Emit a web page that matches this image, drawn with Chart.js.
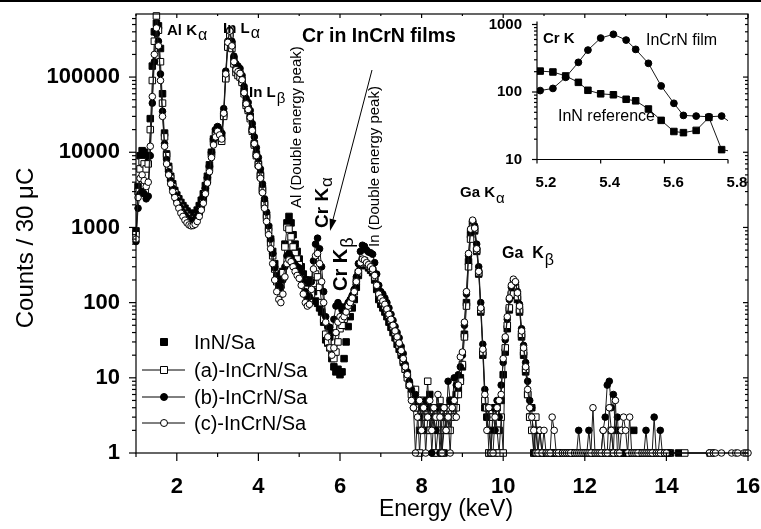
<!DOCTYPE html>
<html>
<head>
<meta charset="utf-8">
<title>Cr in InCrN films</title>
<script src="https://cdn.jsdelivr.net/npm/chart.js@4.4.1/dist/chart.umd.min.js"></script>
<style>
  html, body { margin: 0; padding: 0; background: #fff; }
  #figure { position: relative; width: 761px; height: 529px; overflow: hidden; }
  #figure canvas { position: absolute; }
  #mainChart { left: 0; top: 0; }
  #insetChart { left: 470px; top: 0; }
  #topRule { position: absolute; left: 0; top: 0; width: 761px; height: 2px; background: #000; }
</style>
</head>
<body>
<div id="figure">
  <canvas id="mainChart" width="761" height="529"></canvas>
  <canvas id="insetChart" width="285" height="190"></canvas>
  <div id="topRule"></div>
</div>
<script>
const FONT = "'Liberation Sans', Arial, Helvetica, sans-serif";
Chart.defaults.font.family = FONT;
Chart.defaults.color = '#000';

// spectrum channels are 0.05 keV wide, first channel at 1.00 keV
const CHANNEL_START = 1.0;
const CHANNEL_STEP = 0.05;

// counts per channel, one row = 1 keV; null = empty channel (not shown on log axis)
const innSa = [
  900, 3500, 9000, 10500, 10000, 8500, 9000, 28000, 140000, 400000, 520000, 480000, 240000, 60000, 18000, 9500, 6500, 4800, 3800, 3100,
  2700, 2400, 2150, 1950, 1800, 1650, 1550, 1500, 1500, 1550, 1700, 1950, 2300, 2800, 3600, 4800, 6800, 10000, 15000, 19000,
  21000, 19000, 17000, 32000, 100000, 260000, 380000, 270000, 170000, 130000, 120000, 110000, 90000, 65000, 45000, 38000, 30000, 20000, 13000, 9500,
  7000, 5000, 3300, 2100, 1450, 1000, 700, 480, 330, 240, 210, 200, 260, 600, 1150, 1400, 1150, 800, 600, 480,
  380, 300, 240, 200, 175, 200, 175, 140, 105, 98, 85, 75, 55, 32, 29, 35, 18, 14, 12, 13,
  11, 12, 18, 30, 48, 65, 85, 110, 160, 230, 310, 350, 340, 310, 290, 270, 250, 200, 150, 110,
  95, 85, 75, 65, 55, 47, 40, 34, 28, 24, 20, 16, 13, 11, 8, 7, 6, 4, 5, 2,
  5, 3, 4, 2, 6, 3, 1, 4, 3, 2, 4, 1, 3, 2, 5, 3, 4, 6, 7, 10,
  14, 38, 100, 350, 800, 1150, 900, 480, 240, 75, 20, 4, 3, 1, 2, 3, 1, 4, 2, 5,
  11, 22, 45, 80, 125, 160, 150, 110, 75, 35, 20, 12, 6, 3, 4, 1, 1, 2, 1, 1,
  1, 1, 1, 1, 1, null, 1, 1, 1, 1, 1, null, 1, 1, 1, 1, 1, 1, null, 1,
  1, 1, null, 1, 1, 1, 1, 1, 1, 1, 1, 1, 1, 1, 1, 1, 1, 2, 1, 1,
  1, 1, 1, 1, 2, 1, 1, 1, null, 1, 1, 1, 1, 1, 1, 1, 1, 1, 1, 1,
  1, 1, 1, null, null, null, 1
];

const incrnA = [
  800, 3000, 6000, 7500, 7000, 6000, 7000, 20000, 90000, 300000, 650000, 420000, 160000, 45000, 16000, 9000, 6000, 4500, 3500, 2900,
  2400, 2100, 1850, 1650, 1500, 1400, 1300, 1250, 1250, 1300, 1400, 1600, 1900, 2400, 3100, 4300, 6200, 9500, 14000, 17000,
  18000, 16000, 14000, 30000, 95000, 250000, 350000, 240000, 150000, 115000, 105000, 100000, 85000, 60000, 42000, 36000, 28000, 19000, 12500, 9000,
  6800, 4800, 3100, 2000, 1350, 900, 620, 420, 280, 190, 160, 170, 250, 550, 1000, 950, 750, 550, 450, 380,
  320, 250, 190, 150, 120, 110, 130, 180, 240, 220, 160, 100, 60, 38, 30, 25, 20, 18, 22, 30,
  45, 50, 60, 70, 85, 100, 115, 140, 190, 250, 330, 370, 360, 330, 310, 290, 270, 220, 170, 130,
  110, 100, 90, 80, 68, 58, 48, 40, 33, 27, 22, 17, 13, 10, 8, 6, 5, 7, 4, 1,
  3, 5, 4, 9, 2, 3, 4, 1, 2, 5, 1, 2, 3, 4, 2, 5, 3, 4, 6, 9,
  15, 35, 90, 300, 700, 1100, 950, 500, 250, 80, 22, 5, 4, 1, 1, 3, 4, 2, 1, 3,
  1, 25, 50, 85, 130, 170, 160, 120, 80, 38, 22, 13, 6, 3, 2, 1, 3, 1, 1, 1,
  1, 1, 1, 1, 1, 1, 1, null, 1, 1, 1, 1, null, 1, 1, 1, 1, null, 1, 1,
  1, 1, 1, null, 1, 1, 1, 1, 1, null, 1, 1, 1, 2, 1, 1, 1, 1, null, 1,
  1, 1, 1, 1, 1, null, 1, 1, 1, 1, 1, null, 1, 1, 1, 1, 1, 1, null, null,
  null, 1, null, null, null, null, null, null, null, 1, null, null, null, null, null, null, null, null, null, null,
  null, null, 1
];

const incrnB = [
  650, 1800, 2800, 3000, 2800, 2400, 2600, 9000, 45000, 160000, 380000, 300000, 110000, 35000, 13000, 8000, 5500, 4200, 3300, 2700,
  2300, 2000, 1800, 1600, 1450, 1350, 1250, 1200, 1220, 1280, 1400, 1650, 2000, 2500, 3300, 4600, 6500, 10000, 15000, 20000,
  22000, 20000, 18000, 38000, 120000, 300000, 420000, 300000, 190000, 150000, 140000, 130000, 105000, 75000, 52000, 46000, 36000, 24000, 16000, 11500,
  8500, 6000, 3800, 2400, 1600, 1050, 700, 450, 290, 200, 170, 160, 200, 300, 420, 450, 400, 350, 320, 300,
  290, 250, 190, 140, 115, 120, 190, 360, 600, 720, 520, 300, 140, 65, 48, 47, 40, 60, 90, 100,
  90, 80, 80, 90, 100, 110, 125, 150, 220, 330, 480, 580, 560, 500, 470, 460, 440, 340, 240, 170,
  140, 130, 115, 100, 85, 70, 58, 48, 40, 34, 26, 21, 15, 12, 9, 7, 4, 6, 5, 3,
  4, 2, 5, 3, 4, 1, 3, 2, 4, 1, 3, 4, 2, 9, 5, 4, 10, 8, 11, 14,
  20, 50, 130, 420, 900, 1200, 1050, 600, 300, 100, 28, 7, 3, 2, 1, 4, 2, 5, 3, 8,
  16, 32, 60, 110, 160, 195, 185, 140, 95, 45, 27, 16, 9, 5, 4, 1, 2, 1, 2, 1,
  1, 1, null, 1, 1, 1, 1, 1, 1, null, 1, 1, 1, 1, 1, 1, 1, 2, 1, 1,
  1, 1, 2, 1, 1, 1, 1, 1, 1, 2, 3, 8, 9, 4, 6, 2, 3, 1, 1, 1,
  1, 1, 1, 1, null, 1, 1, 1, 1, 1, 2, 1, 1, 1, 3, 1, 1, 2, 1, null,
  1, 1
];

const incrnC = [
  700, 2500, 4500, 5000, 4200, 3500, 4000, 12000, 55000, 200000, 450000, 260000, 90000, 30000, 12000, 7000, 5000, 3800, 3000, 2500,
  2100, 1800, 1550, 1400, 1250, 1150, 1080, 1050, 1060, 1100, 1200, 1400, 1700, 2100, 2800, 3900, 5500, 8500, 12500, 16000,
  19000, 17000, 15000, 33000, 110000, 290000, 410000, 260000, 160000, 125000, 118000, 112000, 92000, 62000, 44000, 37000, 29000, 19500, 13000, 9000,
  6500, 4500, 2900, 1800, 1200, 800, 520, 330, 200, 140, 110, 100, 130, 220, 330, 370, 350, 300, 260, 230,
  210, 170, 130, 100, 90, 95, 150, 280, 420, 450, 330, 190, 100, 55, 35, 25, 20, 25, 40, 55,
  65, 60, 65, 75, 90, 100, 115, 140, 190, 260, 340, 380, 370, 340, 320, 300, 280, 230, 170, 130,
  115, 105, 95, 82, 70, 60, 50, 42, 35, 29, 23, 18, 14, 11, 8, 5, 4, 1, 3, 5,
  2, 4, 1, 3, 5, 2, 4, 3, 6, 3, 1, 4, 2, 3, 1, 4, 5, 3, 8, 19,
  22, 55, 140, 450, 950, 1250, 980, 520, 260, 85, 24, 6, 2, 4, 1, 1, 3, 4, 5, 6,
  18, 35, 65, 115, 170, 205, 190, 135, 90, 42, 25, 14, 7, 4, 3, 2, 1, 1, 2, 1,
  2, 1, 1, 1, 3, 2, 1, 1, null, 1, 1, 1, 1, 1, null, 1, 1, 1, 1, 1,
  1, 1, 1, 1, 4, 1, 1, 1, 1, 2, 1, 1, 4, 2, 1, 5, 1, 1, 2, 3,
  2, 1, 3, 1, 1, 1, 1, null, 1, 1, 1, 1, 1, 1, null, 1, 1, 1, null, 1,
  1, null, null, null, null, null, null, null, null, null, null, null, null, null, null, null, null, null, null, null,
  null, 1, null, 1, 1, null, null, 1, null, null, null, null, 1, null, 1, 1, null, null, 1, 1,
  1
];

const energyTicks = [2, 4, 6, 8, 10, 12, 14, 16];
const countTicks = [1, 10, 100, 1000, 10000, 100000];

// Cr K window (inset)
const insetEnergy = [5.21, 5.25, 5.29, 5.33, 5.36, 5.40, 5.44, 5.48, 5.51, 5.55, 5.59, 5.63, 5.66, 5.70, 5.74, 5.78, 5.82];
const insetFilm = [105, 113, 165, 275, 418, 630, 716, 588, 428, 266, 123, 68, 45, 44, 43, 44, 32];
const insetReference = [204, 198, 173, 139, 106, 94, 91, 78, 74, 56, 38, 26, 25, 27, 42, 14, 13];
const insetEnergyTicks = [5.2, 5.4, 5.6, 5.8];
const insetCountTicks = [10, 100, 1000];

function spectrumPoints(counts) {
  const pts = [];
  counts.forEach((c, i) => {
    if (c === null) return;
    pts.push({ x: +(CHANNEL_START + i * CHANNEL_STEP).toFixed(2), y: c });
  });
  return pts;
}

function drawMarker(ctx, style, x, y, size, filled) {
  ctx.save();
  ctx.fillStyle = filled ? '#000' : '#fff';
  ctx.strokeStyle = '#000';
  ctx.lineWidth = 1;
  ctx.beginPath();
  if (style === 'rect') {
    ctx.rect(x - size / 2, y - size / 2, size, size);
  } else {
    ctx.arc(x, y, size / 2, 0, Math.PI * 2);
  }
  ctx.fill();
  ctx.stroke();
  ctx.restore();
}

function line(ctx, x1, y1, x2, y2) {
  ctx.beginPath();
  ctx.moveTo(x1, y1);
  ctx.lineTo(x2, y2);
  ctx.stroke();
}

function text(ctx, str, x, y, font, angle) {
  ctx.save();
  ctx.translate(x, y);
  ctx.rotate(angle || 0);
  ctx.font = font;
  ctx.fillText(str, 0, 0);
  ctx.restore();
}

// label with a Greek subscript, e.g. "Cr K" + "α"
function peakLabel(ctx, x, y, main, sub, mainFont, subFont, drop, angle) {
  ctx.save();
  ctx.translate(x, y);
  ctx.rotate(angle || 0);
  ctx.font = mainFont;
  ctx.fillText(main, 0, 0);
  const w = ctx.measureText(main).width;
  ctx.font = subFont;
  ctx.fillText(sub, w + 1, drop);
  ctx.restore();
}

// keep the plot box fixed: no extra room for overhanging tick labels
function noOverhang(s) {
  s.paddingLeft = 0;
  s.paddingRight = 0;
  s.paddingTop = 0;
  s.paddingBottom = 0;
}

const bold = px => `bold ${px}px ${FONT}`;
const plain = px => `${px}px ${FONT}`;
const UP = -Math.PI / 2;

const mainDecor = {
  id: 'mainDecor',
  afterDraw(chart) {
    const { ctx, chartArea: a } = chart;
    const sx = chart.scales.x, sy = chart.scales.y;
    ctx.save();
    ctx.strokeStyle = '#000';
    ctx.fillStyle = '#000';
    ctx.lineWidth = 1.2;
    ctx.strokeRect(a.left, a.top, a.right - a.left, a.bottom - a.top);

    // energy ticks: out at the bottom, in at the top
    for (let e = 1; e <= 16; e++) {
      const px = sx.getPixelForValue(e);
      const major = e % 2 === 0;
      line(ctx, px, a.bottom, px, a.bottom + (major ? 8 : 4));
      line(ctx, px, a.top, px, a.top + (major ? 4 : 2));
    }
    // log ticks: out on the left, in on the right
    for (let d = 1; d <= 100000; d *= 10) {
      for (let m = 1; m <= 9; m++) {
        const v = m * d;
        if (v > sy.max) break;
        const py = sy.getPixelForValue(v);
        const major = m === 1;
        line(ctx, a.left - (major ? 7 : 4), py, a.left, py);
        line(ctx, a.right - (major ? 5 : 3), py, a.right, py);
      }
    }

    // axis titles
    ctx.textAlign = 'center';
    ctx.textBaseline = 'middle';
    text(ctx, 'Counts / 30 \u03BCC', 26, 248, plain(24), UP);
    text(ctx, 'Energy (keV)', 446, 510, plain(23));

    // legend
    ctx.textAlign = 'left';
    const rows = [342, 370, 397, 423];
    chart.data.datasets.forEach((ds, i) => {
      const y = rows[i];
      ctx.lineWidth = 1;
      if (ds.showLine) line(ctx, 142, y, 185, y);
      drawMarker(ctx, ds.pointStyle, 164, y, 7, ds.pointBackgroundColor === '#000');
      ctx.fillStyle = '#000';
      ctx.font = plain(20);
      ctx.fillText(ds.label, 194, y + 1);
    });

    // peak labels
    ctx.textAlign = 'left';
    ctx.textBaseline = 'alphabetic';
    peakLabel(ctx, 167, 35, 'Al K', '\u03B1', bold(15), plain(16), 5);
    peakLabel(ctx, 223, 33, 'In L', '\u03B1', bold(15), plain(16), 5);
    peakLabel(ctx, 249, 97, 'In L', '\u03B2', bold(15), plain(15), 6);
    text(ctx, 'Cr in InCrN films', 302, 42, bold(19.5));
    text(ctx, 'Al (Double energy peak)', 301, 208, plain(15), UP);
    text(ctx, 'In (Double energy peak)', 379, 247, plain(15), UP);
    peakLabel(ctx, 328, 228, 'Cr K', '\u03B1', bold(19), plain(17), 4, UP);
    peakLabel(ctx, 347, 291, 'Cr K', '\u03B2', bold(20), plain(18), 6, UP);
    peakLabel(ctx, 460, 197, 'Ga K', '\u03B1', bold(15), plain(15), 6);
    peakLabel(ctx, 502, 258, 'Ga  K', '\u03B2', bold(16), plain(16), 7);

    // arrow pointing down to the Cr K region
    const x1 = 372, y1 = 70, x2 = 330, y2 = 231;
    const ang = Math.atan2(y2 - y1, x2 - x1);
    ctx.lineWidth = 1;
    line(ctx, x1, y1, x2 - 8 * Math.cos(ang), y2 - 8 * Math.sin(ang));
    ctx.beginPath();
    ctx.moveTo(x2, y2);
    ctx.lineTo(x2 - 12 * Math.cos(ang) + 3.5 * Math.sin(ang), y2 - 12 * Math.sin(ang) - 3.5 * Math.cos(ang));
    ctx.lineTo(x2 - 12 * Math.cos(ang) - 3.5 * Math.sin(ang), y2 - 12 * Math.sin(ang) + 3.5 * Math.cos(ang));
    ctx.closePath();
    ctx.fill();
    ctx.restore();
  }
};

const lineStyle = { showLine: true, borderColor: '#1a1a1a', borderWidth: 1, tension: 0 };

new Chart(document.getElementById('mainChart'), {
  type: 'scatter',
  data: {
    datasets: [
      { label: 'InN/Sa', data: spectrumPoints(innSa), showLine: false,
        pointStyle: 'rect', pointRadius: 4.6, pointBackgroundColor: '#000', pointBorderColor: '#000', pointBorderWidth: 1, order: 3 },
      { label: '(a)-InCrN/Sa', data: spectrumPoints(incrnA), ...lineStyle,
        pointStyle: 'rect', pointRadius: 4.6, pointBackgroundColor: '#fff', pointBorderColor: '#000', pointBorderWidth: 1, order: 2 },
      { label: '(b)-InCrN/Sa', data: spectrumPoints(incrnB), ...lineStyle,
        pointStyle: 'circle', pointRadius: 3.3, pointBackgroundColor: '#000', pointBorderColor: '#000', pointBorderWidth: 1, order: 1 },
      { label: '(c)-InCrN/Sa', data: spectrumPoints(incrnC), ...lineStyle,
        pointStyle: 'circle', pointRadius: 3.3, pointBackgroundColor: '#fff', pointBorderColor: '#000', pointBorderWidth: 1, order: 0 }
    ]
  },
  options: {
    responsive: false,
    animation: false,
    events: [],
    clip: 8,
    layout: { padding: { top: 14, right: 13, left: 0, bottom: 0 } },
    plugins: { legend: { display: false }, tooltip: { enabled: false } },
    scales: {
      x: {
        type: 'linear', min: 1, max: 16,
        afterBuildTicks: s => { s.ticks = energyTicks.map(v => ({ value: v })); },
        afterFit: s => { s.height = 76; noOverhang(s); },
        grid: { display: false }, border: { display: false },
        ticks: { font: { size: 22, weight: 'bold' }, padding: 13, maxRotation: 0, autoSkip: false }
      },
      y: {
        type: 'logarithmic', min: 1, max: 690000,
        afterBuildTicks: s => { s.ticks = countTicks.map(v => ({ value: v })); },
        afterFit: s => { s.width = 136; noOverhang(s); },
        grid: { display: false }, border: { display: false },
        ticks: { font: { size: 22, weight: 'bold' }, padding: 8, autoSkip: false, callback: v => String(v) }
      }
    }
  },
  plugins: [mainDecor]
});

const insetDecor = {
  id: 'insetDecor',
  afterDraw(chart) {
    const { ctx, chartArea: a } = chart;
    const sx = chart.scales.x, sy = chart.scales.y;
    ctx.save();
    ctx.strokeStyle = '#000';
    ctx.fillStyle = '#000';
    ctx.lineWidth = 1.2;
    line(ctx, a.left, a.top - 3, a.left, a.bottom);
    line(ctx, a.left, a.bottom, a.right, a.bottom);
    for (let d = 10; d <= 1000; d *= 10) {
      for (let m = 1; m <= 9; m++) {
        const v = m * d;
        if (v > sy.max) break;
        const py = sy.getPixelForValue(v);
        line(ctx, a.left - (m === 1 ? 5 : 3), py, a.left, py);
      }
    }
    insetEnergyTicks.forEach(e => {
      const px = sx.getPixelForValue(e);
      line(ctx, px, a.bottom, px, a.bottom + 4);
    });
    ctx.textBaseline = 'alphabetic';
    text(ctx, 'Cr K', 73, 43, bold(15));
    text(ctx, 'InCrN film', 176, 45, plain(16));
    text(ctx, 'InN reference', 88, 121, plain(16));
    ctx.restore();
  }
};

new Chart(document.getElementById('insetChart'), {
  type: 'scatter',
  data: {
    datasets: [
      { label: 'InCrN film', data: insetEnergy.map((e, i) => ({ x: e, y: insetFilm[i] })), ...lineStyle,
        pointStyle: 'circle', pointRadius: 3.4, pointBackgroundColor: '#000', pointBorderColor: '#000', pointBorderWidth: 1 },
      { label: 'InN reference', data: insetEnergy.map((e, i) => ({ x: e, y: insetReference[i] })), ...lineStyle,
        pointStyle: 'rect', pointRadius: 4.6, pointBackgroundColor: '#000', pointBorderColor: '#000', pointBorderWidth: 1 }
    ]
  },
  options: {
    responsive: false,
    animation: false,
    events: [],
    layout: { padding: { top: 24.5, right: 27, left: 0, bottom: 0 } },
    plugins: { legend: { display: false }, tooltip: { enabled: false } },
    scales: {
      x: {
        type: 'linear', min: 5.2, max: 5.8,
        afterBuildTicks: s => { s.ticks = insetEnergyTicks.map(v => ({ value: v })); },
        afterFit: s => { s.height = 30.5; noOverhang(s); },
        grid: { display: false }, border: { display: false },
        ticks: { font: { size: 15, weight: 'bold' }, padding: 6, labelOffset: 9, maxRotation: 0, autoSkip: false, callback: v => v.toFixed(1) }
      },
      y: {
        type: 'logarithmic', min: 10, max: 1000,
        afterBuildTicks: s => { s.ticks = insetCountTicks.map(v => ({ value: v })); },
        afterFit: s => { s.width = 67; noOverhang(s); },
        grid: { display: false }, border: { display: false },
        ticks: { font: { size: 15, weight: 'bold' }, padding: 7, autoSkip: false, callback: v => String(v) }
      }
    }
  },
  plugins: [insetDecor]
});
</script>
</body>
</html>
